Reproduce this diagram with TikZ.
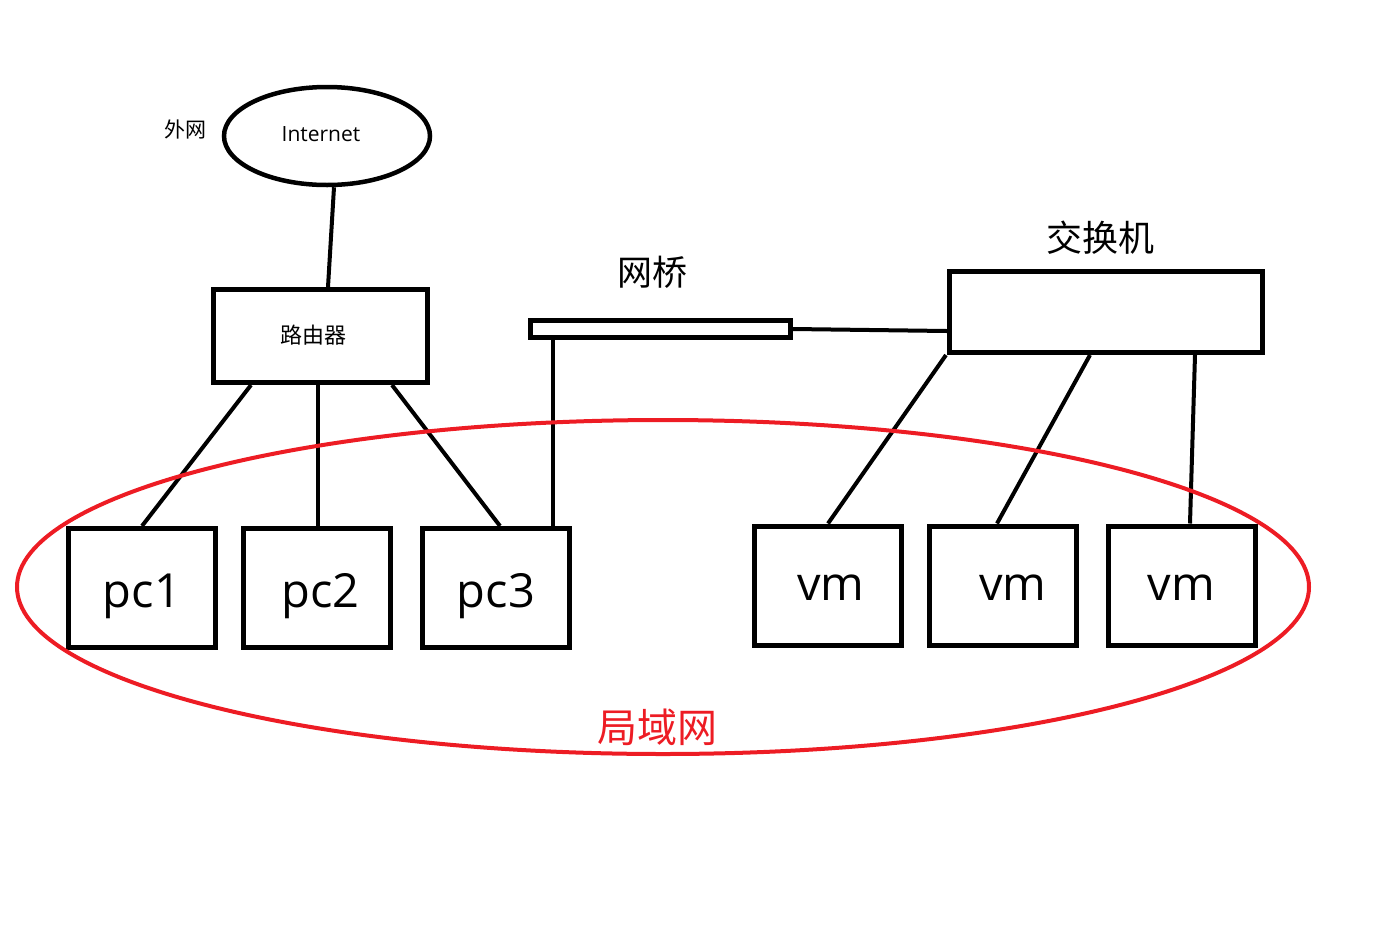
\documentclass[tikz,border=0pt]{standalone}
\usepackage{fontspec}
\setmainfont{Open Sans}
\newfontfamily\cjk{Noto Sans CJK SC}
\usetikzlibrary{shapes.geometric}
\definecolor{lanred}{RGB}{237,28,36}

\tikzset{
  box/.style={draw, line width=5pt, rectangle, inner sep=0pt},
  hostbox/.style={box, minimum width=147pt, minimum height=119pt, text height=38pt, text depth=0pt, font=\fontsize{47}{50}\selectfont},
  vmbox/.style={hostbox, text height=29pt},
  wire/.style={line width=4pt},
}

\begin{document}
\begin{tikzpicture}[x=1pt,y=-1pt]
    \useasboundingbox (0,0) rectangle (1385,946);

    \node[draw, ellipse, line width=4.5pt, inner sep=0pt, minimum width=206pt, minimum height=98pt] (internet) at (327,136) {};
    \node[font=\fontsize{21}{24}\selectfont] at (321,134) {Internet};
    \node[font=\cjk\fontsize{21}{24}\selectfont] at (185,129) {外网};

    \node[box, minimum width=214pt, minimum height=93pt] (router) at (320.5,336) {};
    \node[font=\cjk\fontsize{22}{24}\selectfont] at (313,335) {路由器};
    \node[box, minimum width=260pt, minimum height=17pt] (bridge) at (660.5,329) {};
    \node[font=\cjk\fontsize{35}{38}\selectfont] at (652,272) {网桥};
    \node[box, minimum width=313pt, minimum height=81pt] (switch) at (1106,312) {};
    \node[font=\cjk\fontsize{36}{40}\selectfont] at (1100,238) {交换机};

    \node[hostbox] (pc1) at (142,588) {pc1};
    \node[hostbox] (pc2) at (316.5,588) {\kern8pt pc2};
    \node[hostbox] (pc3) at (496,588) {pc3};
    \node[vmbox] (vm1) at (828,585.5) {\kern6pt vm};
    \node[vmbox] (vm2) at (1003,585.5) {\kern20pt vm};
    \node[vmbox] (vm3) at (1181.5,585.5) {vm};

    \draw[wire] ([xshift=7.5pt]router.north) -- ([xshift=7pt]internet.south);
    \draw[wire] ([xshift=40pt]router.south west) -- (pc1.north);
    \draw[wire] ([xshift=-2.5pt]router.south) -- ([xshift=1.5pt]pc2.north);
    \draw[wire] ([xshift=-38pt]router.south east) -- ([xshift=4pt]pc3.north);
    \draw[wire] ([xshift=25pt]bridge.south west) -- ([xshift=-19pt]pc3.north east);
    \draw[wire] (bridge.east) -- ([yshift=-19pt]switch.west);
    \draw[wire] ([xshift=-1pt]switch.south west) -- (vm1.north);
    \draw[wire] ([xshift=-16pt]switch.south) -- ([xshift=-6pt]vm2.north);
    \draw[wire] ([xshift=89pt]switch.south) -- ([xshift=8.5pt]vm3.north);

    \node[draw=lanred, ellipse, line width=4pt, inner sep=0pt, minimum width=1292pt, minimum height=334pt] (lan) at (663,587) {};
    \node[text=lanred, font=\cjk\fontsize{40}{44}\selectfont] at (657,727) {局域网};
\end{tikzpicture}
\end{document}
